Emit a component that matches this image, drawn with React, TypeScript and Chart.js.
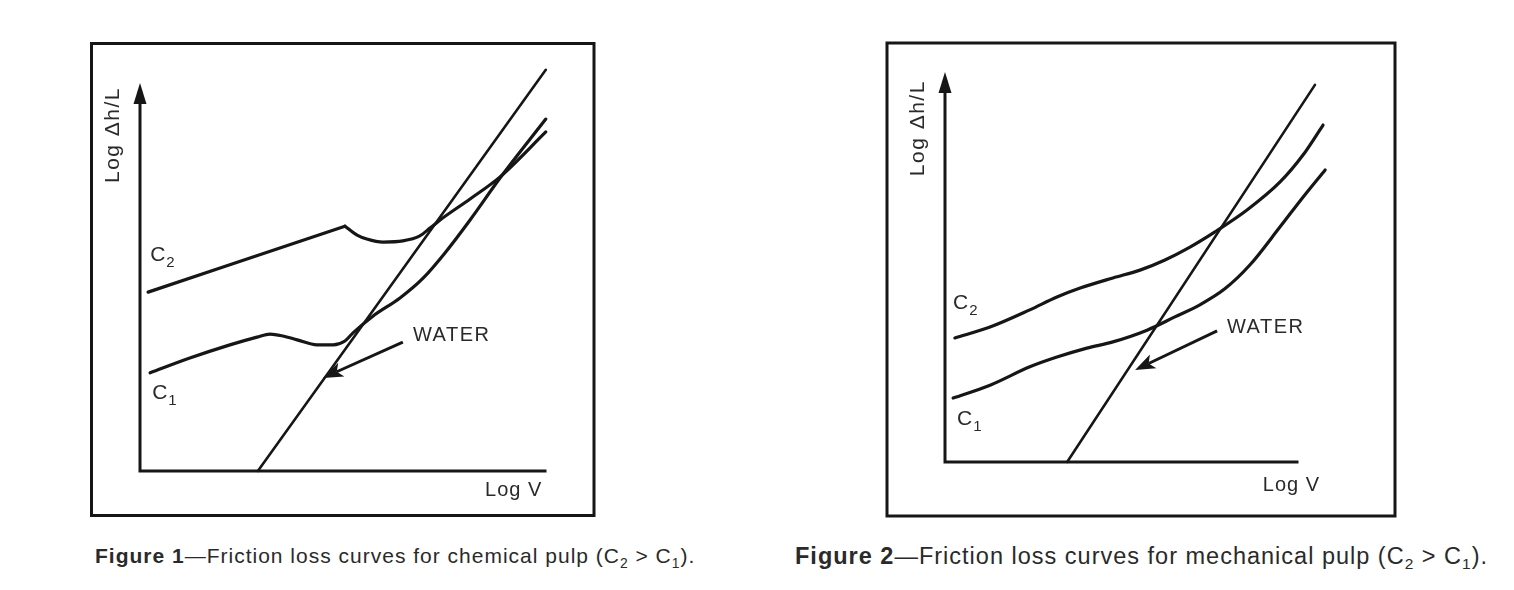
import React, { useEffect, useRef } from "react";
import { Chart, registerables } from "chart.js";
Chart.register(...registerables);

// ---------- Figure 1: chemical pulp ----------
const fig1WaterX = [29.1, 100.2];
const fig1WaterY = [0, 103.4];
const fig1C2aX = [2.0, 50.6];
const fig1C2aY = [46.1, 63.1];
const fig1C2bX = [50.6, 53.6, 56.0, 60.0, 64.9, 69.1, 71.6, 74.1, 81.5, 88.9, 100.2];
const fig1C2bY = [63.1, 60.8, 59.8, 59.0, 59.3, 60.6, 62.6, 64.7, 70.1, 75.8, 87.4];
const fig1C1X = [2.5, 12.3, 22.2, 28.9, 32.1, 35.3, 38.8, 43.7, 47.7, 50.6, 52.6, 57.5, 64.2, 69.9, 75.3, 81.5, 88.9, 100.2];
const fig1C1Y = [25.3, 29.1, 32.5, 34.5, 35.3, 34.8, 33.8, 32.5, 32.5, 33.5, 35.6, 39.9, 44.6, 49.7, 56.2, 64.7, 75.5, 90.7];

// ---------- Figure 2: mechanical pulp ----------
const fig2WaterX = [34.7, 105.1];
const fig2WaterY = [0, 96.7];
const fig2C2X = [2.8, 12.8, 24.1, 31.8, 38.4, 47.7, 55.4, 62.5, 69.6, 76.7, 85.8, 95.2, 101.7, 107.4];
const fig2C2Y = [31.8, 34.6, 39.0, 42.3, 44.6, 47.2, 49.2, 51.8, 55.1, 59.0, 64.6, 71.8, 78.7, 86.4];
const fig2C1X = [2.3, 12.8, 24.1, 31.8, 40.3, 47.7, 57.4, 65.3, 72.4, 79.5, 86.6, 95.2, 101.7, 108.0];
const fig2C1Y = [16.4, 19.7, 24.4, 26.9, 29.2, 30.8, 33.8, 37.2, 40.3, 44.4, 50.5, 60.3, 67.9, 74.9];

// text
const yAxisTitle = "Log \u0394h/L";
const xAxisTitle = "Log V";
const waterLabel = "WATER";
const caption1Bold = "Figure 1";
const caption1Rest = "\u2014Friction loss curves for chemical pulp (C";
const caption2Bold = "Figure 2";
const caption2Rest = "\u2014Friction loss curves for mechanical pulp (C";

const INK = "#161616";
const TEXT = "#2a2a2a";
const LABEL_FONT = '"Liberation Sans", Arial, sans-serif';

const pts = (xs: number[], ys: number[]) => xs.map((x, i) => ({ x, y: ys[i] }));

type PanelCfg = {
  left: number;
  top: number;
  width: number;
  height: number;
  xMax: number;
  yMax: number;
  padding: { left: number; right: number; top: number; bottom: number };
  frame: [number, number, number, number];
  series: { x: number[]; y: number[]; w: number }[];
  c2: [number, number];
  c1: [number, number];
  water: [number, number];
  arrowFrom: [number, number];
  arrowTo: [number, number];
  xTitle: [number, number];
  yTitle: [number, number];
};

const panels: PanelCfg[] = [
  {
    left: 88,
    top: 40,
    width: 510,
    height: 480,
    xMax: 110,
    yMax: 110,
    padding: { left: 52, right: 12.5, top: 4.2, bottom: 49 },
    frame: [3.5, 3.5, 506, 475.5],
    series: [
      { x: fig1WaterX, y: fig1WaterY, w: 2.6 },
      { x: fig1C2aX, y: fig1C2aY, w: 3.2 },
      { x: fig1C2bX, y: fig1C2bY, w: 3.2 },
      { x: fig1C1X, y: fig1C1Y, w: 3.2 },
    ],
    c2: [2.5, 55.7],
    c1: [3.0, 20.1],
    water: [67.4, 34.8],
    arrowFrom: [64.9, 33.2],
    arrowTo: [45.2, 24.0],
    xTitle: [85.2, -4.9],
    yTitle: [-6.7, 86.6],
  },
  {
    left: 882,
    top: 38,
    width: 520,
    height: 484,
    xMax: 110,
    yMax: 105,
    padding: { left: 63, right: 69.8, top: 14.5, bottom: 60 },
    frame: [5, 5, 513, 478],
    series: [
      { x: fig2WaterX, y: fig2WaterY, w: 2.6 },
      { x: fig2C2X, y: fig2C2Y, w: 3.2 },
      { x: fig2C1X, y: fig2C1Y, w: 3.2 },
    ],
    c2: [2.3, 40.8],
    c1: [3.4, 11.0],
    water: [80.1, 34.4],
    arrowFrom: [77.3, 33.6],
    arrowTo: [54.0, 23.6],
    xTitle: [90.3, -5.9],
    yTitle: [-7.7, 85.6],
  },
];

function makeDecor(cfg: PanelCfg) {
  return {
    id: "decor",
    afterDraw(chart: any) {
      const ctx = chart.ctx as CanvasRenderingContext2D & { letterSpacing?: string };
      const xs = chart.scales.x;
      const ys = chart.scales.y;
      const px = (v: number) => xs.getPixelForValue(v);
      const py = (v: number) => ys.getPixelForValue(v);
      ctx.save();
      // frame
      const [fx0, fy0, fx1, fy1] = cfg.frame;
      ctx.strokeStyle = INK;
      ctx.lineWidth = 3;
      ctx.strokeRect(fx0, fy0, fx1 - fx0, fy1 - fy0);
      // axes
      const x0 = px(0), y0 = py(0), x1 = px(100), yTop = py(100);
      ctx.lineWidth = 3;
      ctx.lineCap = "square";
      ctx.beginPath();
      ctx.moveTo(x1, y0);
      ctx.lineTo(x0, y0);
      ctx.lineTo(x0, yTop + 16);
      ctx.stroke();
      // arrow head on y axis
      ctx.fillStyle = INK;
      ctx.beginPath();
      ctx.moveTo(x0, yTop);
      ctx.lineTo(x0 - 6.5, yTop + 21);
      ctx.lineTo(x0 + 6.5, yTop + 21);
      ctx.closePath();
      ctx.fill();
      // water annotation arrow
      const ax0 = px(cfg.arrowFrom[0]), ay0 = py(cfg.arrowFrom[1]);
      const ax1 = px(cfg.arrowTo[0]), ay1 = py(cfg.arrowTo[1]);
      const ang = Math.atan2(ay1 - ay0, ax1 - ax0);
      const hl = 20, hw = 7.5;
      const bx = ax1 - hl * Math.cos(ang), by = ay1 - hl * Math.sin(ang);
      ctx.lineWidth = 3;
      ctx.lineCap = "butt";
      ctx.beginPath();
      ctx.moveTo(ax0, ay0);
      ctx.lineTo(bx + 5 * Math.cos(ang), by + 5 * Math.sin(ang));
      ctx.stroke();
      ctx.beginPath();
      ctx.moveTo(ax1, ay1);
      ctx.lineTo(bx + hw * Math.sin(ang), by - hw * Math.cos(ang));
      ctx.lineTo(bx + 5 * Math.cos(ang), by + 5 * Math.sin(ang));
      ctx.lineTo(bx - hw * Math.sin(ang), by + hw * Math.cos(ang));
      ctx.closePath();
      ctx.fill();
      // texts
      ctx.fillStyle = TEXT;
      ctx.textBaseline = "middle";
      ctx.textAlign = "left";
      ctx.letterSpacing = "1.5px";
      ctx.font = `20px ${LABEL_FONT}`;
      ctx.fillText(waterLabel, px(cfg.water[0]), py(cfg.water[1]));
      ctx.letterSpacing = "1px";
      ctx.fillText(xAxisTitle, px(cfg.xTitle[0]), py(cfg.xTitle[1]));
      ctx.letterSpacing = "0px";
      const drawC = (pos: [number, number], sub: string) => {
        const lx = px(pos[0]), ly = py(pos[1]);
        ctx.font = `21px ${LABEL_FONT}`;
        ctx.fillText("C", lx, ly);
        const w = ctx.measureText("C").width;
        ctx.font = `15px ${LABEL_FONT}`;
        ctx.fillText(sub, lx + w + 1, ly + 8);
      };
      drawC(cfg.c2, "2");
      drawC(cfg.c1, "1");
      // y title rotated
      ctx.save();
      ctx.translate(px(cfg.yTitle[0]), py(cfg.yTitle[1]));
      ctx.rotate(-Math.PI / 2);
      ctx.textAlign = "center";
      ctx.letterSpacing = "1.5px";
      ctx.font = `21px ${LABEL_FONT}`;
      ctx.fillText(yAxisTitle, 0, 0);
      ctx.restore();
      ctx.restore();
    },
  };
}

function Panel({ cfg }: { cfg: PanelCfg }) {
  const ref = useRef<HTMLCanvasElement>(null);
  useEffect(() => {
    if (!ref.current) return;
    const chart = new Chart(ref.current, {
      type: "scatter",
      data: {
        datasets: cfg.series.map((s) => ({
          data: pts(s.x, s.y),
          showLine: true,
          borderColor: INK,
          borderWidth: s.w,
          pointRadius: 0,
          cubicInterpolationMode: "monotone",
          clip: false as any,
          borderCapStyle: "round",
          borderJoinStyle: "round",
        })),
      },
      options: {
        animation: false,
        responsive: false,
        devicePixelRatio: 1,
        layout: { padding: cfg.padding },
        plugins: { legend: { display: false }, tooltip: { enabled: false } },
        events: [],
        scales: {
          x: { type: "linear", min: 0, max: cfg.xMax, display: false },
          y: { type: "linear", min: 0, max: cfg.yMax, display: false },
        },
      } as any,
      plugins: [makeDecor(cfg)],
    });
    return () => chart.destroy();
  }, [cfg]);
  return (
    <canvas
      ref={ref}
      width={cfg.width}
      height={cfg.height}
      style={{ position: "absolute", left: cfg.left, top: cfg.top, width: cfg.width, height: cfg.height }}
    />
  );
}

const capStyle: React.CSSProperties = {
  position: "absolute",
  top: 543,
  fontFamily: '"Liberation Sans", Arial, sans-serif',
  lineHeight: "26px",
  color: TEXT,
  whiteSpace: "nowrap",
  letterSpacing: "1px",
};
const subStyle: React.CSSProperties = { fontSize: "0.66em", position: "relative", top: 5 };

function Caption({ left, size, bold, rest }: { left: number; size: number; bold: string; rest: string }) {
  return (
    <div style={{ ...capStyle, left, fontSize: size }}>
      <b>{bold}</b>
      {rest}
      <span style={subStyle}>2</span>
      {" > C"}
      <span style={subStyle}>1</span>
      {")."}
    </div>
  );
}

export default function App() {
  return (
    <div style={{ position: "absolute", left: 0, top: 0, width: 1514, height: 590, background: "#fff" }}>
      {panels.map((p, i) => (
        <Panel key={i} cfg={p} />
      ))}
      <Caption left={95} size={21} bold={caption1Bold} rest={caption1Rest} />
      <Caption left={795} size={23.5} bold={caption2Bold} rest={caption2Rest} />
    </div>
  );
}
